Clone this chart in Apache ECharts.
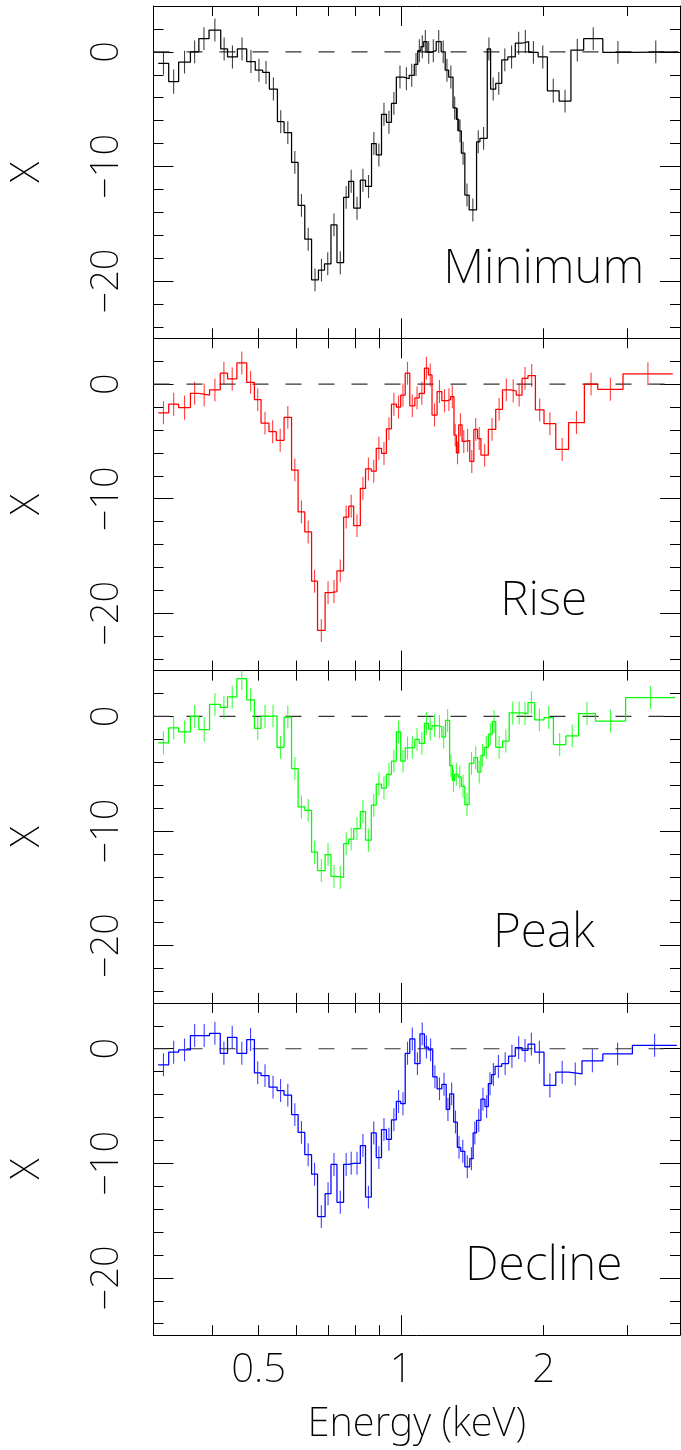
<!DOCTYPE html>
<html>
<head>
<meta charset="utf-8">
<script src="https://cdn.jsdelivr.net/npm/echarts@6/dist/echarts.min.js"></script>
<style>
  html, body { margin: 0; padding: 0; background: #ffffff; }
  #chart { width: 681px; height: 1450px; }
</style>
</head>
<body>
<div id="chart"></div>
<script>
// ---- Spectral residuals per phase: bin edges (keV), bin values, 1-sigma errors ----
const minimumEdges = [0.307, 0.323, 0.339, 0.359, 0.374, 0.393, 0.416, 0.430, 0.451, 0.472,
  0.492, 0.510, 0.527, 0.548, 0.566, 0.587, 0.606, 0.626, 0.647, 0.669,
  0.689, 0.711, 0.732, 0.756, 0.775, 0.794, 0.820, 0.841, 0.866, 0.886,
  0.909, 0.931, 0.954, 0.977, 1.012, 1.040, 1.066, 1.084, 1.101, 1.116,
  1.134, 1.153, 1.186, 1.215, 1.239, 1.260, 1.287, 1.308, 1.323, 1.340,
  1.363, 1.392, 1.443, 1.467, 1.520, 1.545, 1.584, 1.631, 1.680, 1.742,
  1.800, 1.859, 1.947, 2.036, 2.156, 2.283, 2.429, 2.666, 3.088, 3.852];
const minimumValues = [-1.0, -2.6, -0.9, 0.0, 1.15, 1.9, 0.25, -0.45, 0.25, -0.85,
  -1.6, -1.8, -3.25, -6.1, -7.05, -9.65, -13.4, -16.35, -19.9, -19.05,
  -18.5, -15.1, -18.4, -12.7, -11.3, -13.65, -11.2, -11.75, -8.0, -9.0,
  -5.45, -6.15, -4.5, -2.2, -2.35, -2.05, -1.1, 0.1, 0.45, 0.9,
  -0.05, 0.1, 0.9, 0.0, -1.6, -2.2, -4.9, -5.9, -6.9, -8.85,
  -12.5, -13.8, -7.85, -7.55, 0.25, -3.25, -2.75, -0.7, -0.45, 0.75,
  0.9, -0.05, -0.45, -3.4, -4.3, 0.15, 1.15, -0.05, 0.0];
const minimumErrors = [1.0, 1.05, 1.0, 1.0, 1.0, 1.0, 1.0, 1.0, 1.0, 1.0,
  1.0, 1.0, 1.0, 1.0, 1.0, 1.0, 1.0, 1.0, 1.0, 1.0,
  1.0, 1.0, 1.0, 1.0, 1.0, 1.0, 1.0, 1.0, 1.0, 1.0,
  1.0, 1.0, 1.0, 1.0, 1.0, 1.0, 1.0, 1.0, 1.0, 1.0,
  1.0, 1.0, 1.0, 1.0, 1.0, 1.0, 1.0, 1.0, 1.0, 1.0,
  1.0, 1.0, 1.0, 1.0, 1.0, 1.0, 1.0, 1.0, 1.0, 1.0,
  1.0, 1.0, 1.0, 1.05, 1.0, 1.0, 1.0, 1.0, 1.0];

const riseEdges = [0.307, 0.323, 0.339, 0.359, 0.374, 0.394, 0.415, 0.430, 0.450, 0.472,
  0.490, 0.506, 0.526, 0.545, 0.566, 0.587, 0.606, 0.626, 0.647, 0.666,
  0.691, 0.711, 0.732, 0.756, 0.775, 0.794, 0.820, 0.841, 0.865, 0.886,
  0.909, 0.931, 0.954, 0.977, 0.998, 1.020, 1.043, 1.069, 1.092, 1.120,
  1.142, 1.162, 1.191, 1.219, 1.251, 1.272, 1.293, 1.308, 1.323, 1.345,
  1.367, 1.396, 1.424, 1.450, 1.474, 1.528, 1.584, 1.637, 1.699, 1.750,
  1.800, 1.853, 1.921, 2.003, 2.121, 2.257, 2.437, 2.601, 2.941, 3.747];
const riseValues = [-2.5, -1.75, -2.05, -0.8, -0.95, -0.5, 0.95, 0.45, 1.85, 0.15,
  -1.35, -3.4, -4.15, -4.9, -2.9, -7.5, -11.15, -12.9, -17.2, -21.5,
  -18.2, -18.1, -16.3, -11.6, -10.65, -12.35, -9.1, -7.4, -7.6, -5.6,
  -6.05, -3.9, -1.75, -2.0, -0.95, 0.95, -1.9, -1.2, -0.8, 1.4,
  0.8, -2.7, -0.65, -1.45, -1.35, -1.1, -4.45, -6.0, -3.55, -5.0,
  -4.9, -6.75, -3.95, -4.75, -6.2, -3.95, -2.2, -0.5, -0.6, -0.95,
  0.5, 0.75, -2.25, -3.45, -5.7, -3.35, 0.0, -0.45, 0.9];
const riseErrors = [1.0, 1.0, 1.05, 1.0, 1.0, 1.0, 1.0, 1.0, 1.0, 1.0,
  1.0, 1.0, 1.0, 1.0, 1.0, 1.0, 1.0, 1.0, 1.0, 1.0,
  1.0, 1.0, 1.0, 1.0, 1.0, 1.0, 1.0, 1.0, 1.0, 1.0,
  1.0, 1.0, 1.0, 1.0, 1.0, 1.0, 1.0, 1.0, 1.0, 1.0,
  1.0, 1.0, 1.0, 1.0, 1.0, 1.0, 1.0, 1.0, 1.0, 1.0,
  1.0, 1.0, 1.0, 1.0, 1.0, 1.0, 1.0, 1.0, 1.0, 1.0,
  1.0, 1.0, 1.0, 1.0, 1.0, 1.0, 1.0, 1.0, 1.0];

const peakEdges = [0.307, 0.323, 0.339, 0.359, 0.374, 0.394, 0.415, 0.430, 0.450, 0.472,
  0.490, 0.506, 0.526, 0.547, 0.566, 0.587, 0.606, 0.626, 0.647, 0.666,
  0.691, 0.711, 0.732, 0.756, 0.775, 0.794, 0.820, 0.841, 0.865, 0.886,
  0.909, 0.931, 0.954, 0.977, 0.998, 1.020, 1.043, 1.069, 1.092, 1.120,
  1.142, 1.162, 1.191, 1.219, 1.241, 1.266, 1.283, 1.297, 1.319, 1.340,
  1.363, 1.392, 1.424, 1.450, 1.474, 1.498, 1.528, 1.558, 1.584, 1.637,
  1.691, 1.750, 1.800, 1.853, 1.915, 2.003, 2.097, 2.228, 2.370, 2.572,
  2.979, 3.790];
const peakValues = [-2.3, -1.0, -1.35, 0.0, -1.15, 1.05, 0.8, 1.7, 3.3, 1.45,
  -1.05, 0.0, 0.05, -2.7, -0.05, -4.55, -7.9, -8.2, -11.85, -13.45,
  -12.05, -13.95, -14.05, -11.1, -10.7, -9.8, -8.3, -10.8, -7.75, -5.9,
  -6.25, -5.05, -3.9, -1.35, -3.9, -2.75, -2.7, -2.0, -2.35, -0.6,
  -1.1, -0.8, -0.9, -1.8, -0.35, -4.3, -5.6, -5.05, -5.3, -6.1,
  -7.7, -4.1, -3.6, -4.85, -3.4, -2.7, -1.55, -0.45, -2.7, -2.15,
  0.3, 0.3, 0.25, 1.2, -0.3, -0.1, -2.45, -1.7, 0.25, -0.4,
  1.65];
const peakErrors = [1.0, 1.0, 1.0, 1.0, 1.05, 1.0, 1.0, 1.0, 1.0, 1.0,
  1.0, 1.0, 1.0, 1.0, 1.0, 1.0, 1.0, 1.0, 1.0, 1.0,
  1.0, 1.0, 1.0, 1.0, 1.0, 1.0, 1.0, 1.0, 1.0, 1.0,
  1.0, 1.0, 1.0, 1.0, 1.0, 1.0, 1.0, 1.0, 1.0, 1.0,
  1.0, 1.0, 1.0, 1.0, 1.0, 1.0, 1.0, 1.0, 1.0, 1.0,
  1.0, 1.0, 1.0, 1.0, 1.0, 1.0, 1.0, 1.0, 1.0, 1.0,
  1.0, 1.0, 1.0, 1.0, 1.0, 1.0, 1.0, 1.0, 1.0, 1.0,
  1.0];

const declineEdges = [0.307, 0.323, 0.339, 0.359, 0.374, 0.394, 0.415, 0.430, 0.450, 0.472,
  0.490, 0.506, 0.526, 0.547, 0.566, 0.587, 0.606, 0.626, 0.647, 0.666,
  0.691, 0.711, 0.732, 0.756, 0.775, 0.794, 0.820, 0.841, 0.865, 0.886,
  0.909, 0.931, 0.954, 0.977, 0.998, 1.020, 1.043, 1.069, 1.096, 1.120,
  1.142, 1.166, 1.191, 1.219, 1.245, 1.266, 1.291, 1.314, 1.336, 1.363,
  1.396, 1.419, 1.443, 1.474, 1.503, 1.528, 1.553, 1.579, 1.631, 1.686,
  1.742, 1.800, 1.853, 1.915, 2.003, 2.121, 2.257, 2.409, 2.666, 3.078,
  3.821];
const declineValues = [-1.4, -0.3, -0.1, 1.15, 1.15, 1.35, -0.4, 1.0, -0.4, 0.8,
  -2.1, -2.35, -3.35, -3.65, -4.05, -5.75, -7.3, -9.25, -10.95, -14.65,
  -12.65, -10.1, -13.4, -10.1, -10.0, -10.0, -8.45, -12.95, -7.35, -9.5,
  -7.05, -7.9, -6.2, -4.6, -4.8, -0.4, 0.85, -1.3, 1.3, 0.15,
  -0.1, -2.45, -3.5, -3.1, -5.3, -3.95, -6.4, -8.6, -8.95, -10.3,
  -9.6, -7.35, -6.25, -4.4, -5.05, -3.05, -2.25, -1.55, -1.3, -0.65,
  0.1, -0.15, 0.4, -0.3, -3.2, -2.05, -2.2, -1.05, -0.45, 0.3];
const declineErrors = [1.0, 1.0, 1.0, 1.0, 1.0, 1.0, 1.0, 1.0, 1.0, 1.0,
  1.0, 1.0, 1.0, 1.0, 1.0, 1.0, 1.0, 1.0, 1.0, 1.0,
  1.0, 1.0, 1.0, 1.0, 1.0, 1.0, 1.0, 1.0, 1.0, 1.0,
  1.0, 1.0, 1.0, 1.0, 1.0, 1.0, 1.0, 1.0, 1.0, 1.0,
  1.0, 1.0, 1.0, 1.0, 1.0, 1.0, 1.0, 1.0, 1.0, 1.0,
  1.0, 1.0, 1.0, 1.0, 1.0, 1.0, 1.0, 1.0, 1.0, 1.0,
  1.0, 1.0, 1.0, 1.0, 1.05, 1.0, 1.0, 1.0, 1.0, 1.0];

const panelNames = ['Minimum', 'Rise', 'Peak', 'Decline'];

// ---- Axis ticks and labels ----
const energyRange = [0.3, 3.88];
const residualRange = [-25, 4];
const xMajorTicks = [1];
const xMinorTicks = [0.4, 0.5, 0.6, 0.7, 0.8, 0.9, 2, 3];
const xTickLabels = [0.5, 1, 2];
const yMajorTicks = [-20, -10, 0];
const yMinorTicks = [-24, -22, -18, -16, -14, -12, -8, -6, -4, -2, 2];

// ---- Styling and layout ----
const panelColors = ['#000000', '#ff0000', '#00ff00', '#0000ff'];
const FONT = '"Noto Sans", Roboto, Lato, "DejaVu Sans", sans-serif';
const FONT_WEIGHT = 200;
const GRID_LEFT = 150, GRID_RIGHT = 1, GRID_TOP = 6, PANEL_H = 332.3;
const LABEL_ANCHOR = [2, -18.95];

const panels = [
  { name: panelNames[0], edges: minimumEdges, values: minimumValues, errors: minimumErrors },
  { name: panelNames[1], edges: riseEdges, values: riseValues, errors: riseErrors },
  { name: panelNames[2], edges: peakEdges, values: peakValues, errors: peakErrors },
  { name: panelNames[3], edges: declineEdges, values: declineValues, errors: declineErrors }
];

function stepPoints(edges, values) {
  const pts = values.map((v, k) => [edges[k], v]);
  pts.push([edges[edges.length - 1], values[values.length - 1]]);
  return pts;
}
function errorBars(edges, values, errors) {
  return values.map((v, k) => [Math.sqrt(edges[k] * edges[k + 1]), v - errors[k], v + errors[k]]);
}
const fmtY = v => (v < 0 ? '\u2212' + Math.abs(v) : String(v));
const fmtX = v => String(+Number(v).toPrecision(3));

const black = '#000000';
const grids = [], xAxes = [], yAxes = [], series = [];

panels.forEach((p, i) => {
  const isBottom = i === panels.length - 1;
  const color = panelColors[i];
  grids.push({ left: GRID_LEFT, right: GRID_RIGHT, top: GRID_TOP + i * PANEL_H, height: PANEL_H });

  const xBase = {
    type: 'log', logBase: 10, min: energyRange[0], max: energyRange[1], gridIndex: i,
    splitLine: { show: false }, axisLabel: { show: false }
  };
  xAxes.push(Object.assign({}, xBase, {
    position: 'bottom',
    axisLine: { show: true, onZero: false, lineStyle: { color: black, width: 1 } },
    axisTick: { show: true, inside: true, length: 20, customValues: xMajorTicks, lineStyle: { color: black, width: 1 } },
    axisLabel: {
      show: isBottom, customValues: xTickLabels, margin: 15.5, formatter: fmtX,
      color: black, fontSize: 40, fontFamily: FONT, fontWeight: FONT_WEIGHT
    },
    name: isBottom ? 'Energy (keV)' : '', nameLocation: 'middle', nameGap: 69.5,
    nameTextStyle: { color: black, fontSize: 40, fontFamily: FONT, fontWeight: FONT_WEIGHT }
  }));
  xAxes.push(Object.assign({}, xBase, {
    position: 'bottom',
    axisLine: { show: false, onZero: false },
    axisTick: { show: true, inside: true, length: 10, customValues: xMinorTicks, lineStyle: { color: black, width: 1 } }
  }));
  xAxes.push(Object.assign({}, xBase, {
    position: 'top',
    axisLine: { show: true, onZero: false, lineStyle: { color: black, width: 1 } },
    axisTick: { show: true, inside: true, length: 20, customValues: xMajorTicks, lineStyle: { color: black, width: 1 } }
  }));
  xAxes.push(Object.assign({}, xBase, {
    position: 'top',
    axisLine: { show: false, onZero: false },
    axisTick: { show: true, inside: true, length: 10, customValues: xMinorTicks, lineStyle: { color: black, width: 1 } }
  }));

  const yBase = {
    type: 'value', min: residualRange[0], max: residualRange[1], gridIndex: i,
    splitLine: { show: false }, axisLabel: { show: false }
  };
  yAxes.push(Object.assign({}, yBase, {
    position: 'left',
    axisLine: { show: true, onZero: false, lineStyle: { color: black, width: 1 } },
    axisTick: { show: true, inside: true, length: 20, customValues: yMajorTicks, lineStyle: { color: black, width: 1 } },
    axisLabel: {
      show: true, customValues: yMajorTicks, rotate: 90, margin: 27.5, formatter: fmtY,
      color: black, fontSize: 38, fontFamily: FONT, fontWeight: FONT_WEIGHT
    },
    name: 'X', nameLocation: 'middle', nameRotate: 90, nameGap: 105.5,
    nameTextStyle: { color: black, fontSize: 40, fontFamily: FONT, fontWeight: FONT_WEIGHT }
  }));
  yAxes.push(Object.assign({}, yBase, {
    position: 'left',
    axisLine: { show: false, onZero: false },
    axisTick: { show: true, inside: true, length: 10, customValues: yMinorTicks, lineStyle: { color: black, width: 1 } }
  }));
  yAxes.push(Object.assign({}, yBase, {
    position: 'right',
    axisLine: { show: true, onZero: false, lineStyle: { color: black, width: 1 } },
    axisTick: { show: true, inside: true, length: 20, customValues: yMajorTicks, lineStyle: { color: black, width: 1 } }
  }));
  yAxes.push(Object.assign({}, yBase, {
    position: 'right',
    axisLine: { show: false, onZero: false },
    axisTick: { show: true, inside: true, length: 10, customValues: yMinorTicks, lineStyle: { color: black, width: 1 } }
  }));

  const axisRef = { xAxisIndex: i * 4, yAxisIndex: i * 4 };

  // dashed zero reference
  series.push(Object.assign({
    type: 'line', data: [[energyRange[0], 0], [energyRange[1], 0]], symbol: 'none', silent: true,
    lineStyle: { color: '#333333', width: 1.2, type: [16, 17] }, z: 1
  }, axisRef));

  // binned residuals as a step histogram
  series.push(Object.assign({
    type: 'line', step: 'end', symbol: 'none', silent: true, clip: true,
    data: stepPoints(p.edges, p.values),
    lineStyle: { color: color, width: 1.25 }, z: 3
  }, axisRef));

  // vertical error bars at bin centres
  series.push(Object.assign({
    type: 'custom', silent: true, clip: true,
    data: errorBars(p.edges, p.values, p.errors),
    encode: { x: 0, y: [1, 2] },
    renderItem: (params, api) => {
      const lo = api.coord([api.value(0), api.value(1)]);
      const hi = api.coord([api.value(0), api.value(2)]);
      return {
        type: 'line',
        shape: { x1: lo[0], y1: lo[1], x2: hi[0], y2: hi[1] },
        style: { stroke: color, lineWidth: 1.1, opacity: 0.75 }
      };
    },
    z: 2
  }, axisRef));

  // phase name inside the panel
  series.push(Object.assign({
    type: 'custom', silent: true, clip: false,
    data: [LABEL_ANCHOR],
    renderItem: (params, api) => {
      const pt = api.coord([api.value(0), api.value(1)]);
      return {
        type: 'text', x: pt[0], y: pt[1],
        style: {
          text: p.name, fill: black, fontSize: 48, fontFamily: FONT, fontWeight: FONT_WEIGHT,
          align: 'center', verticalAlign: 'middle'
        }
      };
    },
    z: 4
  }, axisRef));
});

const chart = echarts.init(document.getElementById('chart'), null, { renderer: 'canvas' });
chart.setOption({
  backgroundColor: '#ffffff',
  animation: false,
  textStyle: { fontFamily: FONT, fontWeight: FONT_WEIGHT },
  grid: grids,
  xAxis: xAxes,
  yAxis: yAxes,
  series: series
});
</script>
</body>
</html>
